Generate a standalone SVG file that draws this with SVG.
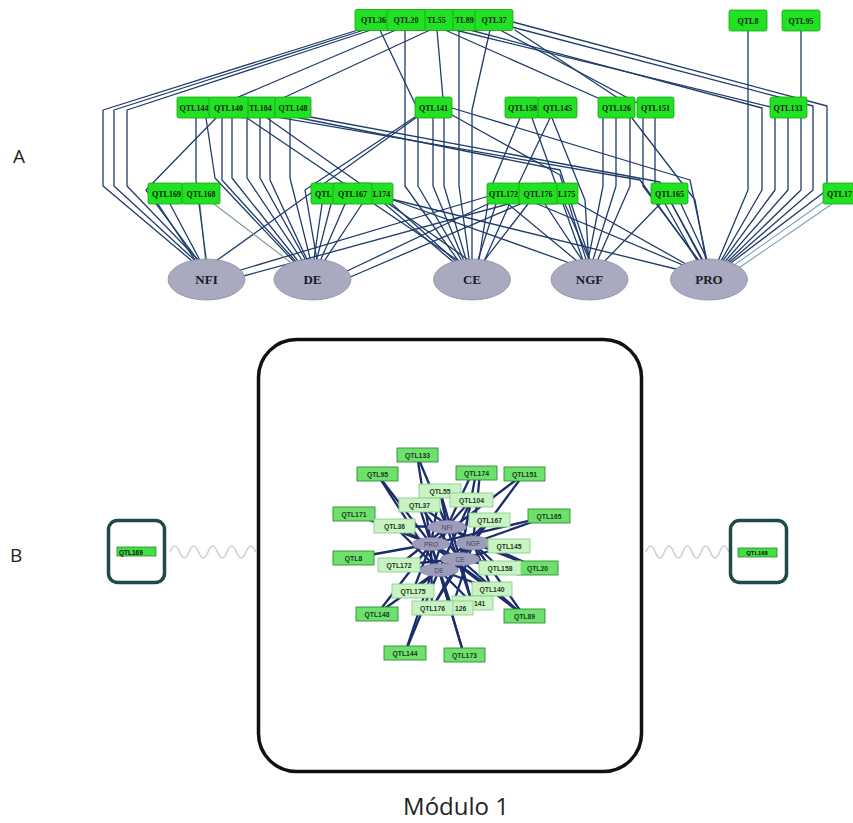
<svg xmlns="http://www.w3.org/2000/svg" width="853" height="823" viewBox="0 0 853 823">
<style>
  .ea polyline{fill:none;stroke:#1f3d6b;stroke-width:1.3;stroke-linejoin:round;stroke-linecap:round}
  .ea polyline.lt{stroke:#7f9c88;stroke-width:1.1}
  .ea polyline.lb{stroke:#7aa0bd;stroke-width:1.1}
  .qa rect{fill:#22e022;stroke:#17a317;stroke-width:0.8}
  .qa text{font-family:"Liberation Serif",serif;font-weight:bold;font-size:8px;fill:#0b250b;text-anchor:middle}
  .qa text.l{text-anchor:start}
  .ta ellipse{fill:#a9a9c0;stroke:#8d8da6;stroke-width:0.8}
  .ta text{font-family:"Liberation Serif",serif;font-weight:bold;font-size:13px;fill:#1b1b2b;text-anchor:middle}
  .eb line{stroke:#1b2d6b;stroke-width:2.3;stroke-linecap:round}
  .qb rect{stroke-width:0.9}
  .qb.o rect{fill:#6ee06e;stroke:#2f8f2f}
  .qb.i rect{fill:#c9f3c3;stroke:#8fcf8f}
  .qb text{font-family:"Liberation Sans",Arial,sans-serif;font-weight:bold;font-size:6.8px;fill:#1d3a1d;text-anchor:middle}
  .qb text.l{text-anchor:start}
  .tb ellipse{fill:#9d9dbb;stroke:#8585a5;stroke-width:0.6}
  .tb text{font-family:"Liberation Sans",Arial,sans-serif;font-size:6.5px;fill:#45455f;text-anchor:middle}
  .lbl{font-family:"Open Sans","Liberation Sans",sans-serif;fill:#222}
  .wave{fill:none;stroke:#cfcfcf;stroke-width:1.6}
</style>

<rect width="853" height="823" fill="#ffffff"/>

<!-- ===== Panel A: bipartite QTL / trait network ===== -->
<text class="lbl" x="13" y="163" font-size="19">A</text>

<g id="edges-a" class="ea">
  <!-- to NFI -->
  <polyline points="358,30 103,110 103,186 198,266"/>
  <polyline points="364,30 114,110 114,186 201,266"/>
  <polyline points="371,30 127,110 127,186 204,266"/>
  <polyline points="158,204 199,266"/>
  <polyline points="170,204 203,266"/>
  <polyline class="lt" points="200,204 206,266"/>
  <polyline points="196,118 196,180 207,266"/>
  <polyline points="216,118 146,190 202,266"/>
  <polyline points="417,117 209,266"/>
  <polyline points="489,196 234,272"/>
  <polyline points="523,200 240,277"/>
  <!-- to DE -->
  <polyline points="206,118 215,178 298,266"/>
  <polyline points="232,118 232,178 302,266"/>
  <polyline points="247,118 247,178 306,266"/>
  <polyline points="260,118 260,178 309,266"/>
  <polyline points="290,118 290,178 312,266"/>
  <polyline points="322,204 313,266"/>
  <polyline points="331,204 315,266"/>
  <polyline points="345,204 318,266"/>
  <polyline points="362,204 321,266"/>
  <polyline class="lt" points="214,204 298,268"/>
  <polyline points="415,117 305,190 318,266"/>
  <polyline points="492,202 345,272"/>
  <polyline points="525,202 348,278"/>
  <polyline points="396,30 222,104 222,180 300,266"/>
  <polyline points="430,30 270,104 270,180 310,266"/>
  <!-- to CE -->
  <polyline points="405,30 405,186 462,266"/>
  <polyline points="380,30 418,110 418,186 465,266"/>
  <polyline points="437,30 444,110 444,186 468,266"/>
  <polyline points="433,118 433,186 466,266"/>
  <polyline points="459,30 459,186 470,266"/>
  <polyline points="490,30 472,110 472,266"/>
  <polyline points="247,118 466,266"/>
  <polyline points="267,118 477,266"/>
  <polyline points="385,204 458,266"/>
  <polyline points="392,204 461,266"/>
  <polyline points="496,204 476,266"/>
  <polyline points="528,204 480,266"/>
  <polyline points="520,118 490,190 478,266"/>
  <polyline points="550,118 517,187 482,266"/>
  <!-- to NGF -->
  <polyline points="603,118 603,186 587,266"/>
  <polyline points="445,30 616,106 616,186 591,266"/>
  <polyline points="515,30 630,106 630,186 595,266"/>
  <polyline points="552,118 585,200 589,266"/>
  <polyline points="532,118 557,187 585,266"/>
  <polyline points="565,204 592,266"/>
  <polyline points="545,204 586,266"/>
  <polyline points="660,204 600,266"/>
  <polyline points="393,200 578,266"/>
  <polyline points="508,204 583,266"/>
  <polyline points="270,112 560,170 592,266"/>
  <polyline points="452,115 560,175 588,266"/>
  <!-- to PRO -->
  <polyline points="748,31 748,190 716,266"/>
  <polyline points="470,30 762,108 762,190 718,266"/>
  <polyline points="455,30 775,108 775,190 719,266"/>
  <polyline points="788,118 788,190 721,266"/>
  <polyline points="801,31 801,190 723,266"/>
  <polyline points="508,26 813,106 813,190 725,266"/>
  <polyline points="513,22 827,106 827,190 727,266"/>
  <polyline points="672,204 706,266"/>
  <polyline points="681,204 710,266"/>
  <polyline points="655,118 655,186 700,266"/>
  <polyline points="500,30 643,106 643,186 703,266"/>
  <polyline points="632,118 695,200 707,266"/>
  <polyline class="lb" points="826,200 730,268"/>
  <polyline class="lb" points="832,204 733,272"/>
  <polyline points="528,200 690,268"/>
  <polyline points="572,200 693,268"/>
  <polyline points="383,197 688,272"/>
  <polyline points="248,112 640,180 702,266"/>
  <polyline points="305,116 660,182 705,266"/>
  <polyline points="452,108 690,180 708,266"/>
</g>

<!-- top row (overlapping boxes show only the uncovered part of a label) -->
<g id="a-qtl89" class="qa"><rect x="444" y="9.5" width="34" height="21" rx="2"/><text class="l" x="455" y="23">TL89</text></g>
<g id="a-qtl55" class="qa"><rect x="414" y="9.5" width="39" height="21" rx="2"/><text class="l" x="427" y="23">TL55</text></g>
<g id="a-qtl36" class="qa"><rect x="355" y="9.5" width="37" height="21" rx="2"/><text x="373.5" y="23">QTL36</text></g>
<g id="a-qtl20" class="qa"><rect x="387" y="9.5" width="38" height="21" rx="2"/><text x="406" y="23">QTL20</text></g>
<g id="a-qtl37" class="qa"><rect x="475" y="9.5" width="38" height="21" rx="2"/><text x="494" y="23">QTL37</text></g>
<g id="a-qtl8" class="qa"><rect x="729" y="10" width="38" height="21" rx="2"/><text x="748" y="23.5">QTL8</text></g>
<g id="a-qtl95" class="qa"><rect x="782" y="10" width="38" height="21" rx="2"/><text x="801" y="23.5">QTL95</text></g>

<!-- middle row -->
<g id="a-qtl104" class="qa"><rect x="240" y="97" width="37" height="21" rx="2"/><text class="l" x="249" y="110.5">TL104</text></g>
<g id="a-qtl144" class="qa"><rect x="177" y="97" width="34" height="21" rx="2"/><text x="194" y="110.5">QTL144</text></g>
<g id="a-qtl140" class="qa"><rect x="209" y="97" width="39" height="21" rx="2"/><text x="228.5" y="110.5">QTL140</text></g>
<g id="a-qtl148" class="qa"><rect x="275" y="97" width="36" height="21" rx="2"/><text x="293" y="110.5">QTL148</text></g>
<g id="a-qtl141" class="qa"><rect x="415" y="97" width="37" height="21" rx="2"/><text x="433.5" y="110.5">QTL141</text></g>
<g id="a-qtl158" class="qa"><rect x="505" y="97" width="34" height="21" rx="2"/><text x="522.5" y="110.5">QTL158</text></g>
<g id="a-qtl145" class="qa"><rect x="538" y="97" width="39" height="21" rx="2"/><text x="557.5" y="110.5">QTL145</text></g>
<g id="a-qtl126" class="qa"><rect x="598" y="97" width="37" height="21" rx="2"/><text x="616.5" y="110.5">QTL126</text></g>
<g id="a-qtl151" class="qa"><rect x="637" y="97" width="37" height="21" rx="2"/><text x="655.5" y="110.5">QTL151</text></g>
<g id="a-qtl133" class="qa"><rect x="770" y="97" width="37" height="21" rx="2"/><text x="788" y="110.5">QTL133</text></g>

<!-- bottom row -->
<g id="a-qtl169" class="qa"><rect x="148" y="183" width="35" height="21" rx="2"/><text x="166.5" y="196.5">QTL169</text></g>
<g id="a-qtl168" class="qa"><rect x="182" y="183" width="38" height="21" rx="2"/><text x="201" y="196.5">QTL168</text></g>
<g id="a-qtl171" class="qa"><rect x="311" y="183" width="37" height="21" rx="2"/><text class="l" x="315" y="196.5">QTL</text></g>
<g id="a-qtl174" class="qa"><rect x="359" y="183" width="34" height="21" rx="2"/><text class="l" x="373" y="196.5">L174</text></g>
<g id="a-qtl167" class="qa"><rect x="333" y="183" width="39" height="21" rx="2"/><text x="352.5" y="196.5">QTL167</text></g>
<g id="a-qtl172" class="qa"><rect x="487" y="183" width="33" height="21" rx="2"/><text x="503.5" y="196.5">QTL172</text></g>
<g id="a-qtl175" class="qa"><rect x="540" y="183" width="38" height="21" rx="2"/><text class="l" x="558" y="196.5">L175</text></g>
<g id="a-qtl176" class="qa"><rect x="519" y="183" width="38" height="21" rx="2"/><text x="538" y="196.5">QTL176</text></g>
<g id="a-qtl165" class="qa"><rect x="651" y="183" width="37" height="21" rx="2"/><text x="669.5" y="196.5">QTL165</text></g>
<g id="a-qtl173" class="qa"><rect x="823" y="183" width="38" height="21" rx="2"/><text class="l" x="827" y="196.5">QTL17</text></g>

<!-- traits -->
<g id="a-nfi" class="ta"><ellipse cx="206.5" cy="279.5" rx="38.5" ry="20.5"/><text x="206.5" y="284">NFI</text></g>
<g id="a-de" class="ta"><ellipse cx="312.5" cy="279.5" rx="38.5" ry="20.5"/><text x="312.5" y="284">DE</text></g>
<g id="a-ce" class="ta"><ellipse cx="472" cy="279.5" rx="38.5" ry="20.5"/><text x="472" y="284">CE</text></g>
<g id="a-ngf" class="ta"><ellipse cx="589.5" cy="279.5" rx="38.5" ry="20.5"/><text x="589.5" y="284">NGF</text></g>
<g id="a-pro" class="ta"><ellipse cx="709" cy="279.5" rx="38.5" ry="20.5"/><text x="709" y="284">PRO</text></g>

<!-- ===== Panel B: modules ===== -->
<text class="lbl" x="10" y="562" font-size="19">B</text>

<g id="b-links">
  <path class="wave" d="M170,552 Q174.75,540 179.5,552 T189,552 T198.5,552 T208,552 T217.5,552 T227,552 T236.5,552 T246,552 T255.5,552"/>
  <path class="wave" d="M646,552 Q650.6,540 655.2,552 T664.4,552 T673.6,552 T682.8,552 T692,552 T701.2,552 T710.4,552 T719.6,552 T728.8,552"/>
</g>

<g id="module-169">
  <rect x="108.5" y="520.5" width="56" height="62" rx="9" fill="#ffffff" stroke="#1d4a4a" stroke-width="3.5"/>
  <rect x="117" y="547" width="39" height="9" fill="#44dd44" stroke="#2a8a2a" stroke-width="0.8"/>
  <text x="119" y="554.5" font-family="Liberation Sans, Arial, sans-serif" font-weight="bold" font-size="6.5" fill="#111">QTL169</text>
</g>

<g id="module-168">
  <rect x="730.5" y="520.5" width="56" height="62" rx="9" fill="#ffffff" stroke="#1d4a4a" stroke-width="3.5"/>
  <rect x="738" y="548" width="39" height="9" fill="#44dd44" stroke="#2a8a2a" stroke-width="0.8"/>
  <text x="757" y="555.3" font-family="Liberation Sans, Arial, sans-serif" font-weight="bold" font-size="5.8" fill="#111" text-anchor="middle">QTL168</text>
</g>

<g id="module-1">
  <rect x="258.5" y="339.5" width="383" height="432" rx="38" fill="#ffffff" stroke="#111111" stroke-width="3.5"/>

  <g id="edges-b" class="eb">
    <line x1="417" y1="455" x2="431" y2="544"/>
    <line x1="417" y1="455" x2="447" y2="527"/>
    <line x1="377" y1="474" x2="431" y2="544"/>
    <line x1="377" y1="474" x2="439" y2="570"/>
    <line x1="472" y1="473" x2="447" y2="527"/>
    <line x1="476" y1="473" x2="460" y2="559"/>
    <line x1="480" y1="473" x2="473" y2="543"/>
    <line x1="524" y1="474" x2="473" y2="543"/>
    <line x1="524" y1="474" x2="431" y2="544"/>
    <line x1="354" y1="514" x2="431" y2="544"/>
    <line x1="549" y1="516" x2="473" y2="543"/>
    <line x1="549" y1="516" x2="431" y2="544"/>
    <line x1="353" y1="558" x2="431" y2="544"/>
    <line x1="537" y1="568" x2="460" y2="559"/>
    <line x1="537" y1="568" x2="447" y2="527"/>
    <line x1="537" y1="568" x2="473" y2="543"/>
    <line x1="377" y1="614" x2="439" y2="570"/>
    <line x1="377" y1="614" x2="431" y2="544"/>
    <line x1="524" y1="616" x2="460" y2="559"/>
    <line x1="524" y1="616" x2="473" y2="543"/>
    <line x1="524" y1="616" x2="431" y2="544"/>
    <line x1="405" y1="653" x2="439" y2="570"/>
    <line x1="405" y1="653" x2="447" y2="527"/>
    <line x1="464" y1="655" x2="431" y2="544"/>
    <line x1="464" y1="655" x2="439" y2="570"/>
    <line x1="440" y1="491" x2="447" y2="527"/>
    <line x1="440" y1="491" x2="460" y2="559"/>
    <line x1="440" y1="491" x2="431" y2="544"/>
    <line x1="471" y1="500" x2="447" y2="527"/>
    <line x1="471" y1="500" x2="439" y2="570"/>
    <line x1="471" y1="500" x2="460" y2="559"/>
    <line x1="419" y1="505" x2="460" y2="559"/>
    <line x1="419" y1="505" x2="473" y2="543"/>
    <line x1="419" y1="505" x2="431" y2="544"/>
    <line x1="489" y1="520" x2="439" y2="570"/>
    <line x1="489" y1="520" x2="460" y2="559"/>
    <line x1="394" y1="526" x2="447" y2="527"/>
    <line x1="394" y1="526" x2="439" y2="570"/>
    <line x1="394" y1="526" x2="460" y2="559"/>
    <line x1="509" y1="546" x2="460" y2="559"/>
    <line x1="509" y1="546" x2="473" y2="543"/>
    <line x1="399" y1="565" x2="460" y2="559"/>
    <line x1="399" y1="565" x2="447" y2="527"/>
    <line x1="399" y1="565" x2="439" y2="570"/>
    <line x1="500" y1="568" x2="473" y2="543"/>
    <line x1="500" y1="568" x2="460" y2="559"/>
    <line x1="413" y1="591" x2="473" y2="543"/>
    <line x1="413" y1="591" x2="431" y2="544"/>
    <line x1="492" y1="589" x2="439" y2="570"/>
    <line x1="492" y1="589" x2="473" y2="543"/>
    <line x1="492" y1="589" x2="431" y2="544"/>
    <line x1="472" y1="603" x2="447" y2="527"/>
    <line x1="472" y1="603" x2="439" y2="570"/>
    <line x1="472" y1="603" x2="460" y2="559"/>
    <line x1="452" y1="608" x2="473" y2="543"/>
    <line x1="452" y1="608" x2="431" y2="544"/>
    <line x1="432" y1="608" x2="460" y2="559"/>
    <line x1="432" y1="608" x2="473" y2="543"/>
    <line x1="432" y1="608" x2="431" y2="544"/>
  </g>

  <g id="b-nfi" class="tb"><ellipse cx="447" cy="527" rx="19.5" ry="6.5"/><text x="447" y="529.5">NFI</text></g>
  <g id="b-pro" class="tb"><ellipse cx="431" cy="544" rx="19" ry="6.5"/><text x="431" y="546.5">PRO</text></g>
  <g id="b-ngf" class="tb"><ellipse cx="473" cy="543" rx="17" ry="7"/><text x="473" y="545.5">NGF</text></g>
  <g id="b-ce" class="tb"><ellipse cx="460" cy="559" rx="19.5" ry="6.5"/><text x="460" y="561.5">CE</text></g>
  <g id="b-de" class="tb"><ellipse cx="439" cy="570" rx="19.5" ry="6.5"/><text x="439" y="572.5">DE</text></g>

  <g id="b-qtl133" class="qb o"><rect x="397" y="448" width="41" height="14"/><text x="417.5" y="457.5">QTL133</text></g>
  <g id="b-qtl95" class="qb o"><rect x="357" y="467" width="41" height="14"/><text x="377.5" y="476.5">QTL95</text></g>
  <g id="b-qtl174" class="qb o"><rect x="456" y="466" width="41" height="14"/><text x="476.5" y="475.5">QTL174</text></g>
  <g id="b-qtl151" class="qb o"><rect x="504" y="467" width="41" height="14"/><text x="524.5" y="476.5">QTL151</text></g>
  <g id="b-qtl171" class="qb o"><rect x="333" y="507" width="42" height="14"/><text x="354" y="516.5">QTL171</text></g>
  <g id="b-qtl165" class="qb o"><rect x="528" y="509" width="42" height="14"/><text x="549" y="518.5">QTL165</text></g>
  <g id="b-qtl8" class="qb o"><rect x="333" y="551" width="41" height="14"/><text x="353.5" y="560.5">QTL8</text></g>
  <g id="b-qtl20" class="qb o"><rect x="517" y="561" width="41" height="14"/><text x="537.5" y="570.5">QTL20</text></g>
  <g id="b-qtl148" class="qb o"><rect x="356" y="607" width="42" height="14"/><text x="377" y="616.5">QTL148</text></g>
  <g id="b-qtl89" class="qb o"><rect x="504" y="609" width="41" height="14"/><text x="524.5" y="618.5">QTL89</text></g>
  <g id="b-qtl144" class="qb o"><rect x="384" y="646" width="42" height="14"/><text x="405" y="655.5">QTL144</text></g>
  <g id="b-qtl173" class="qb o"><rect x="444" y="648" width="41" height="14"/><text x="464.5" y="657.5">QTL173</text></g>

  <g id="b-qtl55" class="qb i"><rect x="419" y="484" width="42" height="14"/><text x="440" y="493.5">QTL55</text></g>
  <g id="b-qtl104" class="qb i"><rect x="450" y="493" width="43" height="14"/><text x="471.5" y="502.5">QTL104</text></g>
  <g id="b-qtl37" class="qb i"><rect x="399" y="498" width="41" height="14"/><text x="419.5" y="507.5">QTL37</text></g>
  <g id="b-qtl167" class="qb i"><rect x="469" y="513" width="41" height="14"/><text x="489.5" y="522.5">QTL167</text></g>
  <g id="b-qtl36" class="qb i"><rect x="374" y="519" width="41" height="14"/><text x="394.5" y="528.5">QTL36</text></g>
  <g id="b-qtl145" class="qb i"><rect x="488" y="539" width="42" height="14"/><text x="509" y="548.5">QTL145</text></g>
  <g id="b-qtl172" class="qb i"><rect x="378" y="558" width="42" height="14"/><text x="399" y="567.5">QTL172</text></g>
  <g id="b-qtl158" class="qb i"><rect x="479" y="561" width="42" height="14"/><text x="500" y="570.5">QTL158</text></g>
  <g id="b-qtl175" class="qb i"><rect x="392" y="584" width="42" height="14"/><text x="413" y="593.5">QTL175</text></g>
  <g id="b-qtl140" class="qb i"><rect x="472" y="582" width="40" height="14"/><text x="492" y="591.5">QTL140</text></g>
  <g id="b-qtl141" class="qb i"><rect x="452" y="596" width="41" height="14"/><text class="l" x="474" y="605.5">141</text></g>
  <g id="b-qtl126" class="qb i"><rect x="432" y="601" width="41" height="14"/><text class="l" x="455" y="610.5">126</text></g>
  <g id="b-qtl176" class="qb i"><rect x="412" y="601" width="41" height="14"/><text x="432.5" y="610.5">QTL176</text></g>
</g>

<text class="lbl" x="456" y="815" font-size="24" text-anchor="middle">Módulo 1</text>
</svg>
